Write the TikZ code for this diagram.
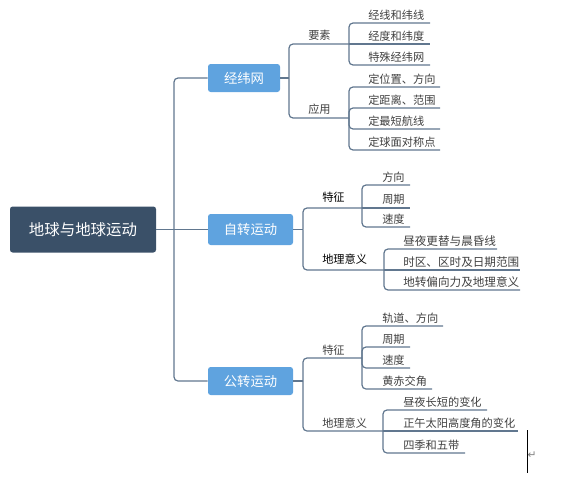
\documentclass[tikz,border=0pt]{standalone}
\usepackage{fontspec}
\setmainfont{Noto Sans CJK SC}
\newfontfamily\symfont{DejaVu Sans}

\definecolor{linkcol}{HTML}{61778F}
\definecolor{rootcol}{HTML}{3A5068}
\definecolor{topiccol}{HTML}{5FA3DF}
\definecolor{leafcol}{HTML}{404040}

\begin{document}
\begin{tikzpicture}[x=0.75pt, y=-0.75pt,
    link/.style={draw=linkcol, line width=0.9pt, rounded corners=3pt},
    rootbox/.style={fill=rootcol, text=white, rounded corners=2pt, inner sep=0pt,
        minimum width=109.5pt, minimum height=34.5pt, font=\fontsize{11.6}{14}\selectfont},
    topic/.style={fill=topiccol, text=white, rounded corners=2pt, inner sep=0pt,
        minimum height=21pt, font=\fontsize{10}{12}\selectfont},
    subtopic/.style={text=leafcol, inner sep=0pt, anchor=base west, font=\fontsize{8.4}{10}\selectfont},
    leaf/.style={subtopic},
    wideleaf/.style={subtopic, font=\fontsize{8.7}{10}\selectfont}]

    % Canvas
    \useasboundingbox (0,0) rectangle (582,482);

    % Root and main topics
    \node[rootbox] (root) at (83,229.5) {地球与地球运动};
    \node[topic, minimum width=54pt] (jw) at (244,78) {经纬网};
    \node[topic, minimum width=63.75pt, minimum height=23.25pt] (zz) at (250.5,229.5) {自转运动};
    \node[topic, minimum width=63.75pt] (gz) at (250.5,381) {公转运动};

    % Joints
    \coordinate (J0) at (174,229.5);
    \coordinate (Ja) at (289,78);
    \coordinate (Jb) at (303,229.5);
    \coordinate (Jc) at (303,381);
    \coordinate (Ja1) at (349,44);
    \coordinate (Ja2) at (349,118);
    \coordinate (Jb1) at (362,208);
    \coordinate (Jb2) at (384,270);
    \coordinate (Jc1) at (362,358);
    \coordinate (Jc2) at (383,431);

    % Trunk
    \draw[link] (root.east) -- (zz.west);
    \draw[link] (J0) |- (jw.west);
    \draw[link] (J0) |- (gz.west);

    % Second level
    \draw[link] (jw.east) -- (Ja);
    \draw[link] (Ja) |- (Ja1);
    \draw[link] (Ja) |- (Ja2);
    \draw[link] (zz.east) -- (Jb);
    \draw[link] (Jb) |- (Jb1);
    \draw[link] (Jb) |- (Jb2);
    \draw[link] (gz.east) -- (Jc);
    \draw[link] (Jc) |- (Jc1);
    \draw[link] (Jc) |- (Jc2);

    \node[subtopic] (ys) at (308,39) {要素};
    \node[subtopic] (yy) at (308,113) {应用};
    \node[subtopic, text=black] (tz1) at (322,201) {特征};
    \node[subtopic, text=black] (dl1) at (322,263) {地理意义};
    \node[subtopic] (tz2) at (322,354) {特征};
    \node[subtopic] (dl2) at (322,427) {地理意义};

    % Leaf ends
    \coordinate (a1) at (430,23);
    \coordinate (a2) at (430,44);
    \coordinate (a3) at (430,65);
    \coordinate (b1) at (440,87);
    \coordinate (b2) at (440,108);
    \coordinate (b3) at (440,129);
    \coordinate (b4) at (440,150);
    \coordinate (c1) at (410,185);
    \coordinate (c2) at (410,208);
    \coordinate (c3) at (410,227);
    \coordinate (d1) at (497,249);
    \coordinate (d2) at (520,270);
    \coordinate (d3) at (520,290);
    \coordinate (e1) at (443,326);
    \coordinate (e2) at (410,347);
    \coordinate (e3) at (410,368);
    \coordinate (e4) at (432,389);
    \coordinate (f1) at (487,410);
    \coordinate (f2) at (518,431);
    \coordinate (f3) at (465,453);

    % Leaf links
    \draw[link] (Ja1) |- (a1);
    \draw[link] (Ja1) -- (a2);
    \draw[link] (Ja1) |- (a3);
    \draw[link] (Ja2) |- (b1);
    \draw[link] (Ja2) |- (b2);
    \draw[link] (Ja2) |- (b3);
    \draw[link] (Ja2) |- (b4);
    \draw[link] (Jb1) |- (c1);
    \draw[link] (Jb1) -- (c2);
    \draw[link] (Jb1) |- (c3);
    \draw[link] (Jb2) |- (d1);
    \draw[link] (Jb2) -- (d2);
    \draw[link] (Jb2) |- (d3);
    \draw[link] (Jc1) |- (e1);
    \draw[link] (Jc1) |- (e2);
    \draw[link] (Jc1) |- (e3);
    \draw[link] (Jc1) |- (e4);
    \draw[link] (Jc2) |- (f1);
    \draw[link] (Jc2) -- (f2);
    \draw[link] (Jc2) |- (f3);

    % Leaf texts
    \node[leaf] (ta1) at (368,19) {经线和纬线};
    \node[leaf] (ta2) at (368,40) {经度和纬度};
    \node[leaf] (ta3) at (368,61) {特殊经纬网};
    \node[leaf] (tb1) at (368,83) {定位置、方向};
    \node[leaf] (tb2) at (368,104) {定距离、范围};
    \node[leaf] (tb3) at (368,125) {定最短航线};
    \node[leaf] (tb4) at (368,146) {定球面对称点};
    \node[leaf] (tc1) at (382,181) {方向};
    \node[leaf] (tc2) at (382,203) {周期};
    \node[leaf] (tc3) at (382,223) {速度};
    \node[wideleaf] (td1) at (403,245) {昼夜更替与晨昏线};
    \node[wideleaf] (td2) at (403,266) {时区、区时及日期范围};
    \node[wideleaf] (td3) at (403,286) {地转偏向力及地理意义};
    \node[leaf] (te1) at (382,322) {轨道、方向};
    \node[leaf] (te2) at (382,343) {周期};
    \node[leaf] (te3) at (382,364) {速度};
    \node[leaf] (te4) at (382,385) {黄赤交角};
    \node[leaf] (tf1) at (403,406) {昼夜长短的变化};
    \node[leaf] (tf2) at (403,427) {正午太阳高度角的变化};
    \node[leaf] (tf3) at (403,449) {四季和五带};

    % Text cursor
    \draw[black, line width=0.7pt] (527,430) -- (527,473);
    \node[text=gray, inner sep=0pt, font=\symfont\fontsize{8}{9}\selectfont] (ret) at (532,455) {↵};
\end{tikzpicture}
\end{document}
